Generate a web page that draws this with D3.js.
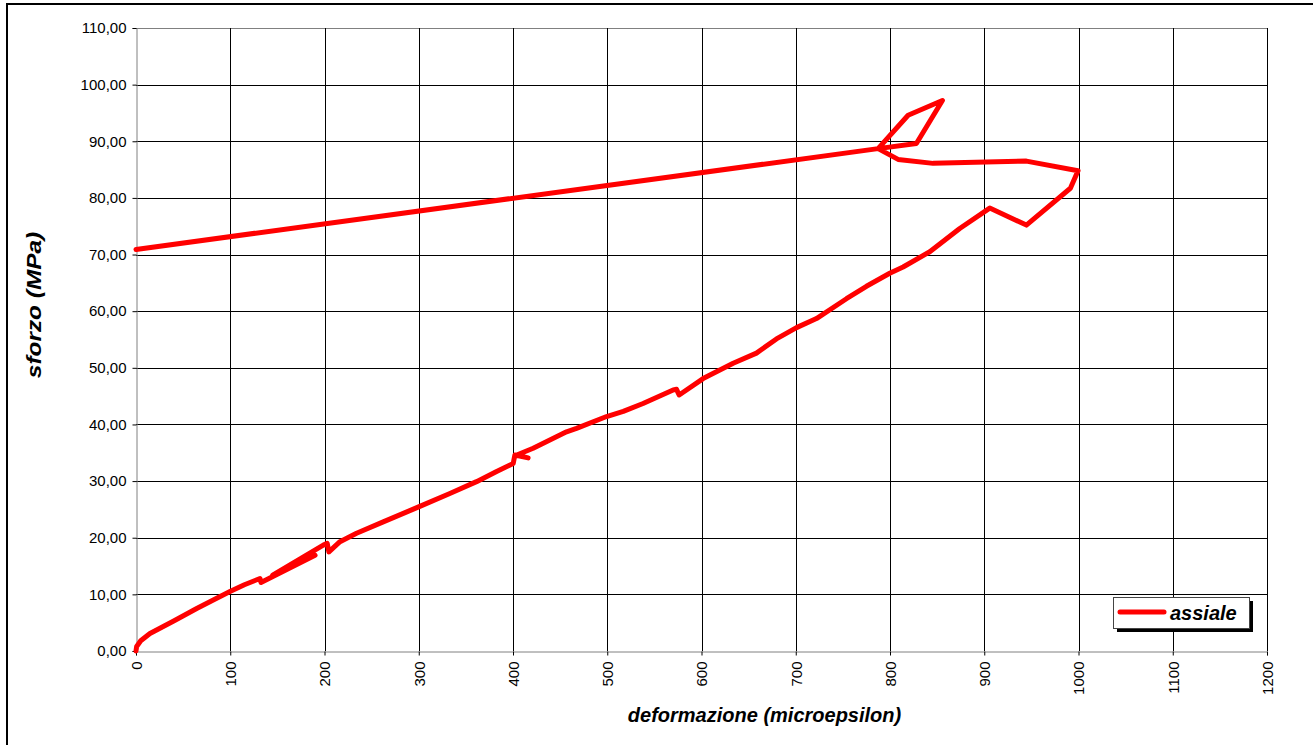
<!DOCTYPE html>
<html>
<head>
<meta charset="utf-8">
<script src="https://cdn.jsdelivr.net/npm/d3@7"></script>
<style>
  html, body { margin: 0; padding: 0; background: #fff; }
  svg { display: block; }
</style>
</head>
<body>
<svg id="chart" width="1313" height="745"></svg>
<script>
// ---- data ----
const seriesName = "assiale";
const strain = [0, 0.7, 5, 14.8, 40, 64.4, 82, 99.7, 115, 131.5, 132.6, 190, 145, 198.7, 202.9, 204.7,
  216.4, 234, 262.3, 300.5, 333, 361.3, 382.6, 400.2, 402, 416, 404, 421.4, 456.8, 467.4, 499.3, 517, 538,
  569.9, 573.5, 576.3, 601.7, 633.6, 658.3, 679.5, 700.8, 722, 753.8, 775, 799.7, 813.9, 842.2, 874, 905.8,
  944.7, 991.4, 999.5, 944.7, 845.7, 808.6, 787.4, 828.0, 855.6, 819.2, 787.4, 0];
const stress = [0, 0.8, 1.8, 3.1, 5.3, 7.5, 9.0, 10.5, 11.7, 12.8, 12.1, 16.9, 13.4, 18.7, 19.0, 17.5,
  19.3, 20.8, 22.8, 25.5, 27.8, 29.9, 31.7, 33.1, 34.6, 34.1, 34.6, 35.8, 38.7, 39.3, 41.4, 42.3, 43.7,
  46.1, 46.2, 45.2, 48.1, 50.8, 52.6, 55.1, 57.1, 58.7, 62.2, 64.4, 66.7, 67.8, 70.5, 74.6, 78.2,
  75.2, 81.7, 84.8, 86.5, 86.1, 86.8, 88.7, 89.6, 97.2, 94.6, 88.7, 70.9];
const xTicks = [0, 100, 200, 300, 400, 500, 600, 700, 800, 900, 1000, 1100, 1200];
const yTicks = [0, 10, 20, 30, 40, 50, 60, 70, 80, 90, 100, 110];
const xTitle = "deformazione (microepsilon)";
const yTitle = "sforzo (MPa)";

// ---- layout ----
const svg = d3.select("#chart");
const L = 136, R = 1267, T = 28, B = 651;
const x = d3.scaleLinear().domain([0, 1200]).range([L, R]);
const y = d3.scaleLinear().domain([0, 110]).range([B, T]);
const FONT = "'Liberation Sans', Arial, sans-serif";

// outer chart border
svg.append("rect").attr("x", 7).attr("y", 4).attr("width", 1320).attr("height", 760)
  .attr("fill", "none").attr("stroke", "#000").attr("stroke-width", 2);

// gridlines
const grid = svg.append("g");
grid.selectAll("line.h").data(yTicks.filter(d => d > 0)).join("line")
  .attr("x1", L).attr("x2", R).attr("y1", d => Math.round(y(d)) + 0.5).attr("y2", d => Math.round(y(d)) + 0.5)
  .attr("stroke", d => d === 110 ? "#808080" : "#000").attr("stroke-width", 1);
grid.selectAll("line.v").data(xTicks.filter(d => d > 0)).join("line")
  .attr("y1", T).attr("y2", B).attr("x1", d => Math.round(x(d)) + 0.5).attr("x2", d => Math.round(x(d)) + 0.5)
  .attr("stroke", "#000").attr("stroke-width", 1);

// axes
const yAxis = d3.axisLeft(y).tickValues(yTicks).tickSize(4).tickPadding(6)
  .tickFormat(d => d3.format(".2f")(d).replace(".", ","));
const gy = svg.append("g").attr("transform", `translate(${L + 0.5},0)`).call(yAxis);
gy.select(".domain").attr("stroke", "#808080");
gy.selectAll(".tick line").attr("stroke", "#000");
gy.selectAll(".tick text").attr("font-family", FONT).attr("font-size", 15).attr("fill", "#000");

const xAxis = d3.axisBottom(x).tickValues(xTicks).tickSize(4).tickFormat(d3.format("d"));
const gx = svg.append("g").attr("transform", `translate(0,${B + 0.5})`).call(xAxis);
gx.select(".domain").attr("stroke", "#808080");
gx.selectAll(".tick line").attr("stroke", "#000");
gx.selectAll(".tick text").attr("font-family", FONT).attr("font-size", 15).attr("fill", "#000")
  .attr("transform", "rotate(-90)").attr("text-anchor", "end").attr("dy", "0.35em")
  .attr("x", -10).attr("y", 0);

// axis titles
svg.append("text").attr("x", (L + R) / 2 + 63).attr("y", 722).attr("text-anchor", "middle")
  .attr("font-family", FONT).attr("font-size", 20).attr("font-weight", "bold").attr("font-style", "italic")
  .text(xTitle);
svg.append("text").attr("transform", `translate(41,305) rotate(-90) scale(1.22,1)`).attr("text-anchor", "middle")
  .attr("font-family", FONT).attr("font-size", 20).attr("font-weight", "bold").attr("font-style", "italic")
  .text(yTitle);

// series
const pts = strain.map((s, i) => [s, stress[i]]);
const line = d3.line().x(d => x(d[0])).y(d => y(d[1]));
svg.append("path").datum(pts).attr("d", line).attr("fill", "none")
  .attr("stroke", "#ff0000").attr("stroke-width", 5).attr("stroke-linejoin", "round").attr("stroke-linecap", "round");

// legend
const lg = svg.append("g");
lg.append("rect").attr("x", 1117).attr("y", 601).attr("width", 136).attr("height", 31).attr("fill", "#000");
lg.append("rect").attr("x", 1113.5).attr("y", 597.5).attr("width", 136).attr("height", 31)
  .attr("fill", "#fff").attr("stroke", "#444").attr("stroke-width", 1);
lg.append("line").attr("x1", 1120).attr("x2", 1164).attr("y1", 612).attr("y2", 612)
  .attr("stroke", "#ff0000").attr("stroke-width", 5).attr("stroke-linecap", "round");
lg.append("text").attr("x", 1170).attr("y", 620).attr("font-family", FONT).attr("font-size", 20)
  .attr("font-weight", "bold").attr("font-style", "italic").text(seriesName);
</script>
</body>
</html>
